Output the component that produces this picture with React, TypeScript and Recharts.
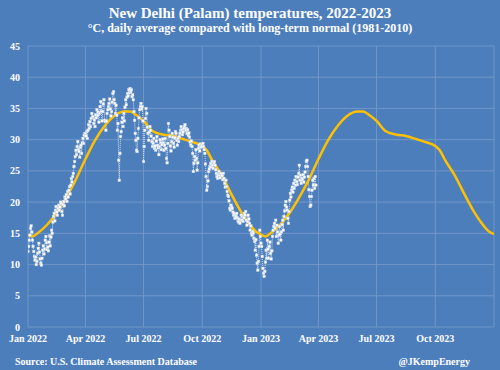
import { LineChart, Line, XAxis, YAxis, CartesianGrid } from 'recharts';

// Daily average temperature at Palam, deg C, one array per month
const jan22 = [12.1, 12.9, 13.9, 14.7, 15.8, 16.2, 15.2, 13.9, 12.9, 12.1, 11.3, 10.7, 11.2, 10.0, 10.5, 11.8, 12.6, 13.4, 12.0, 10.9, 10.2, 9.9, 11.0, 12.3, 13.0, 11.7, 12.5, 13.9, 14.5, 13.5, 12.4];
const feb22 = [12.8, 12.2, 13.6, 14.6, 13.0, 14.4, 15.5, 15.0, 16.8, 17.7, 18.2, 17.0, 18.7, 19.3, 18.4, 17.9, 19.0, 19.5, 18.7, 19.2, 20.0, 19.8, 18.5, 17.9, 19.6, 20.1, 19.4, 20.8];
const mar22 = [20.5, 21.2, 20.1, 21.7, 20.8, 21.9, 22.5, 21.3, 22.7, 23.8, 23.2, 24.1, 24.6, 25.7, 26.5, 27.3, 28.3, 27.6, 28.9, 29.7, 28.4, 28.1, 27.2, 28.8, 29.1, 27.8, 29.5, 30.2, 29.4, 30.7, 31.0];
const apr22 = [31.0, 30.6, 31.3, 30.2, 31.5, 32.4, 31.8, 32.9, 32.1, 33.4, 34.2, 33.6, 33.7, 32.6, 33.2, 32.1, 34.0, 33.5, 34.8, 33.9, 34.4, 32.8, 34.2, 35.3, 36.1, 34.6, 33.0, 34.5, 35.7, 36.4];
const may22 = [33.1, 32.9, 31.5, 33.0, 34.2, 34.8, 35.3, 35.8, 36.5, 34.9, 33.8, 34.5, 36.0, 37.4, 37.7, 36.4, 35.8, 34.2, 35.5, 33.9, 31.5, 32.6, 26.7, 23.5, 27.8, 30.5, 31.3, 32.8, 33.5, 32.1, 34.2];
const jun22 = [33.0, 35.2, 36.4, 35.6, 36.8, 37.4, 37.0, 38.0, 37.5, 38.2, 37.7, 38.0, 36.9, 37.2, 36.4, 34.5, 33.1, 31.0, 29.9, 28.3, 28.1, 30.2, 31.8, 33.5, 34.8, 35.3, 35.8, 34.9, 35.3, 33.0];
const jul22 = [26.5, 28.9, 31.5, 33.4, 35.0, 34.2, 32.0, 31.0, 29.9, 31.2, 32.1, 31.5, 30.6, 29.7, 28.9, 29.4, 30.2, 28.6, 29.0, 28.3, 29.8, 30.5, 29.1, 28.7, 27.6, 28.9, 30.0, 29.5, 28.4, 29.2, 30.1];
const aug22 = [29.5, 28.3, 29.1, 30.2, 28.6, 27.0, 26.3, 29.4, 32.6, 31.5, 30.5, 29.0, 28.2, 29.7, 31.0, 30.4, 29.4, 28.8, 30.3, 31.3, 31.0, 29.9, 29.1, 30.2, 29.7, 30.5, 31.0, 31.5, 32.1, 31.6, 30.8];
const sep22 = [31.2, 31.8, 32.1, 32.4, 31.5, 31.8, 31.0, 31.6, 30.7, 31.1, 30.4, 29.6, 29.1, 29.8, 28.9, 27.8, 24.9, 26.2, 27.3, 26.7, 28.4, 27.0, 25.1, 26.3, 28.6, 29.1, 28.2, 29.3, 28.8, 29.1];
const oct22 = [29.0, 29.4, 28.9, 28.4, 27.8, 26.1, 24.1, 21.9, 22.5, 23.4, 24.9, 25.3, 25.7, 26.2, 25.6, 26.5, 25.9, 25.4, 26.3, 26.5, 25.9, 25.2, 24.6, 24.1, 23.8, 24.4, 24.9, 24.3, 23.9, 24.6, 24.2];
const nov22 = [24.3, 23.6, 24.6, 23.8, 23.0, 22.4, 23.5, 22.5, 21.7, 21.1, 20.9, 20.2, 19.0, 18.7, 19.5, 19.2, 19.0, 18.4, 17.9, 18.2, 17.4, 17.9, 17.7, 18.2, 17.5, 17.0, 16.8, 17.3, 16.6, 17.1];
const dec22 = [17.9, 17.1, 17.7, 16.9, 17.5, 18.2, 17.9, 18.5, 17.1, 16.3, 16.9, 17.9, 17.3, 16.6, 15.5, 16.2, 15.0, 14.7, 15.3, 15.0, 14.2, 13.7, 12.3, 14.0, 11.5, 10.2, 9.1, 10.5, 12.9, 15.5, 14.5];
const jan23 = [13.4, 12.9, 11.3, 9.4, 8.6, 8.1, 8.9, 10.4, 12.3, 11.0, 13.9, 12.5, 11.0, 12.9, 13.6, 11.8, 10.9, 12.2, 14.5, 15.5, 16.1, 16.6, 15.8, 17.1, 14.5, 16.3, 15.2, 13.4, 14.7, 16.1, 14.9];
const feb23 = [13.9, 15.2, 16.4, 17.1, 15.5, 17.7, 18.6, 19.5, 20.1, 19.2, 18.7, 17.4, 16.6, 18.5, 20.3, 21.4, 20.8, 21.9, 22.4, 21.6, 23.0, 22.2, 23.5, 22.7, 24.1, 23.3, 22.8, 24.0];
const mar23 = [24.6, 25.9, 23.5, 24.3, 23.0, 23.8, 23.5, 24.4, 23.2, 24.0, 24.8, 25.7, 26.5, 26.7, 25.7, 24.1, 22.0, 20.9, 19.3, 19.5, 20.9, 21.9, 23.5, 22.7, 23.8, 22.2, 24.1, 22.7];

// Long-term normal 1981-2010, deg C, at day of year
const normalDays = [0, 7, 15, 31, 45, 59, 74, 90, 105, 120, 135, 151, 160, 170, 181, 195, 212, 227, 243, 258, 273, 280, 288, 304, 319, 334, 349, 358];
const normalTemps = [14.8, 14.5, 15.0, 16.5, 18.3, 20.6, 23.4, 26.9, 29.9, 32.2, 33.8, 34.5, 34.5, 33.9, 33.0, 31.4, 30.8, 30.6, 30.1, 29.6, 29.0, 28.3, 26.8, 24.2, 21.2, 18.4, 16.2, 15.2];

// Quarter ticks, in days since 1 Jan 2022
const xTicks = [0, 90, 181, 273, 365, 455, 546, 638, 730];
const xLabels = ['Jan 2022', 'Apr 2022', 'Jul 2022', 'Oct 2022', 'Jan 2023', 'Apr 2023', 'Jul 2023', 'Oct 2023', ''];
const yTicks = [0, 5, 10, 15, 20, 25, 30, 35, 40, 45];

const months = [jan22, feb22, mar22, apr22, may22, jun22, jul22, aug22, sep22, oct22, nov22, dec22, jan23, feb23, mar23];
const daily = months.flat().map((temp, day) => ({ day, temp }));
const normal = [0, 365]
  .flatMap((offset) => normalDays.map((d, i) => ({ day: d + offset, normal: normalTemps[i] })))
  .concat({ day: 730, normal: 14.9 });

const BG = '#4d7ebc';
const FONT = '"Liberation Serif", "DejaVu Serif", serif';

const SquareDot = (props: any) => {
  const { cx, cy, index } = props;
  if (cx == null || cy == null) return null;
  return (
    <rect key={index} x={cx - 1.3} y={cy - 1.3} width={2.6} height={2.6} fill="#ffffff" stroke="#b9cbe6" strokeWidth={0.4} />
  );
};

const tickStyle = { fill: '#ffffff', fontSize: 10, fontWeight: 'bold', fontFamily: FONT };

export default function App() {
  return (
    <div style={{ position: 'relative', width: 500, height: 370, background: BG, fontFamily: FONT, color: '#fff' }}>
      <style>{'body{margin:0}'}</style>
      <div style={{ position: 'absolute', top: 5, left: 0, width: 500, textAlign: 'center', fontSize: 15, lineHeight: '16px', fontWeight: 'bold' }}>
        New Delhi (Palam) temperatures, 2022-2023
      </div>
      <div style={{ position: 'absolute', top: 22, left: 0, width: 500, textAlign: 'center', fontSize: 12, lineHeight: '13px', fontWeight: 'bold' }}>
        °C, daily average compared with long-term normal (1981-2010)
      </div>
      <LineChart width={500} height={370} margin={{ top: 46, right: 6, left: 0, bottom: 23 }}>
        <CartesianGrid stroke="#7196c8" strokeWidth={1} />
        <XAxis
          type="number"
          dataKey="day"
          domain={[0, 730]}
          ticks={xTicks}
          interval={0}
          tickFormatter={(v: number) => xLabels[xTicks.indexOf(v)]}
          tick={tickStyle}
          tickLine={false}
          axisLine={false}
          height={20}
          allowDataOverflow
        />
        <YAxis
          type="number"
          domain={[0, 45]}
          ticks={yTicks}
          interval={0}
          tick={tickStyle}
          tickLine={false}
          axisLine={false}
          width={28}
        />
        <Line
          data={daily}
          dataKey="temp"
          type="linear"
          stroke="#d3dff0"
          strokeWidth={1}
          strokeDasharray="1 1"
          dot={SquareDot}
          activeDot={false}
          isAnimationActive={false}
        />
        <Line
          data={normal}
          dataKey="normal"
          type="monotone"
          stroke="#ffc000"
          strokeWidth={2.5}
          dot={false}
          activeDot={false}
          isAnimationActive={false}
        />
      </LineChart>
      <div style={{ position: 'absolute', top: 356, left: 15, fontSize: 10, lineHeight: '12px', fontWeight: 'bold' }}>
        Source: U.S. Climate Assessment Database
      </div>
      <div style={{ position: 'absolute', top: 356, right: 30, fontSize: 10, lineHeight: '12px', fontWeight: 'bold' }}>
        @JKempEnergy
      </div>
    </div>
  );
}
